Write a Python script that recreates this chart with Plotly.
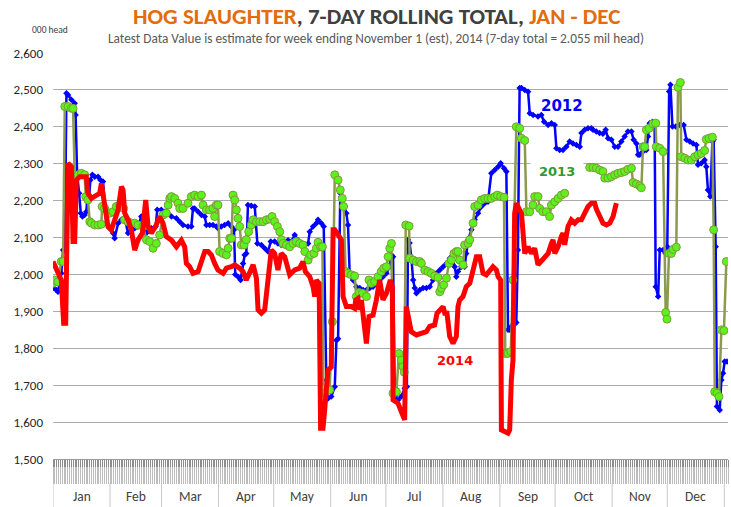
import plotly.graph_objects as go

# ---------------- data (day of year, thousand head) ----------------
days_2012 = [0, 1.8, 2.7, 4.5, 5.5, 6.4, 7.3, 8.2, 10.0, 11.8, 12.3, 13.1, 14.2, 15.1, 16.0, 17.2, 18.1, 18.7, 19.6, 20.3,
             21.4, 22.7, 24.5, 25.8, 27.2, 28.1, 29.0, 30.8, 32.6, 33.5, 35.4, 37.2, 39.0, 40.8, 42.6, 44.4, 46.2, 48.0,
             48.9, 50.8, 53.5, 55.8, 56.7, 58.9, 60.7, 62.5, 64.4, 67.1, 68.9, 70.7, 73.4, 75.2, 76.1, 77.0, 78.9, 80.7,
             82.5, 83.4, 85.2, 87.0, 88.8, 89.7, 91.5, 93.3, 95.2, 97.0, 98.4, 99.1, 100.6, 102.0, 103.3, 104.2, 105.1,
             106.0, 107.8, 109.7, 111.1, 113.3, 115.1, 116.9, 118.4, 120.5, 122.3, 124.1, 126.0, 127.8, 129.6, 131.4,
             133.2, 135.0, 136.9, 138.7, 139.6, 141.4, 143.2, 144.1, 145.9, 147.2, 148.6, 149.5, 151.3, 153.2, 154.1,
             155.0, 156.2, 156.8, 158.6, 159.5, 160.4, 161.3, 163.1, 164.9, 166.8, 168.6, 170.4, 172.2, 174.0, 175.8,
             177.6, 179.4, 181.3, 183.1, 184.0, 184.9, 185.8, 187.6, 189.4, 191.2, 192.4, 193.0, 193.9, 194.8, 195.8,
             196.7, 197.6, 199.4, 201.2, 203.0, 204.8, 206.6, 208.4, 210.3, 212.1, 213.9, 215.7, 217.1, 218.4, 219.3,
             220.2, 222.0, 223.8, 224.7, 225.7, 227.5, 229.3, 231.1, 232.9, 234.7, 236.5, 238.3, 240.2, 242.0, 243.4,
             245.2, 246.5, 247.4, 248.3, 249.2, 251.0, 251.9, 252.8, 253.7, 254.7, 256.5, 258.3, 259.2, 261.0, 263.7,
             265.5, 267.0, 269.2, 271.0, 272.8, 273.7, 275.5, 277.3, 279.1, 280.9, 282.7, 284.6, 286.4, 287.3, 289.1,
             290.9, 292.7, 293.6, 295.4, 297.2, 299.0, 300.5, 301.8, 303.6, 305.4, 307.2, 309.0, 310.8, 312.6, 314.5,
             315.7, 317.2, 318.1, 319.0, 320.8, 322.6, 323.5, 324.4, 325.9, 327.1, 327.7, 329.0, 329.9, 331.7, 333.1,
             334.0, 335.0, 335.7, 336.8, 338.6, 340.7, 342.9, 344.4, 346.2, 348.0, 349.8, 350.7, 352.5, 354.3, 355.2,
             356.1, 357.4, 358.5, 359.2, 360.3, 361.0, 362.5, 363.4, 364.3, 365.2, 366.5]
vals_2012 = [1963, 1958, 1953, 2003, 2066, 2066, 2491, 2486, 2473, 2464, 2432, 2274, 2220, 2166, 2157, 2161, 2170, 2206, 2206, 2256,
             2270, 2265, 2265, 2256, 2252, 2184, 2139, 2125, 2112, 2098, 2139, 2148, 2152, 2112, 2121, 2125, 2130, 2157,
             2143, 2112, 2125, 2130, 2175, 2175, 2170, 2166, 2157, 2152, 2143, 2134, 2130, 2130, 2179, 2179, 2170, 2161,
             2157, 2134, 2134, 2134, 2130, 2125, 2130, 2134, 2139, 2130, 2121, 2000, 1994, 1985, 2030, 2053, 2057,
             2188, 2186, 2184, 2084, 2080, 2071, 2062, 2089, 2089, 2084, 2080, 2084, 2093, 2089, 2107,
             2093, 2084, 2080, 2084, 2116, 2130, 2139, 2148, 2139, 2130, 1714, 1664, 1669, 1696, 1822,
             1826, 2220, 2211, 2184, 2166, 2134, 2003, 1985, 1967, 1963, 1958, 1958, 1963, 1967, 1976,
             1985, 1994, 2003, 2021, 2053, 2048, 1669, 1660, 1669, 1692, 1696, 2094, 2085, 2048, 1985,
             1963, 1949, 1958, 1963, 1963, 1967, 1985, 2003, 2012, 2021, 2030, 2044, 2048, 2021, 1994,
             2008, 2021, 2021, 2057, 2094, 2121, 2148, 2166, 2184, 2193, 2197, 2274, 2283, 2292, 2301,
             2288, 2279, 1850, 1850, 1859, 1866, 1870, 2066, 2505, 2505, 2500, 2495, 2437, 2432, 2428,
             2432, 2414, 2405, 2410, 2405, 2342, 2337, 2337, 2346, 2360, 2355, 2351, 2346, 2383, 2392,
             2396, 2396, 2392, 2387, 2383, 2381, 2392, 2369, 2365, 2346, 2346, 2360, 2374, 2387, 2387,
             2365, 2355, 2324, 2324, 2333, 2337, 2374, 2410, 2414, 2410, 1967, 1940, 2066, 2066, 2057,
             2075, 2496, 2514, 2401, 2401, 2405, 2405, 2365, 2360, 2355, 2351, 2297, 2301, 2310, 2292,
             2229, 2211, 2360, 2365, 2075, 1642, 1633, 1714, 1732, 1764, 1764]

days_2013 = [0, 0.9, 2.7, 4.5, 5.5, 6.4, 8.2, 10.0, 10.9, 11.8, 13.6, 15.4, 17.2, 17.8, 19.0, 20.0, 20.9, 22.7, 24.5, 26.3,
             26.7, 28.1, 30.8, 32.6, 34.4, 36.2, 38.4, 38.9, 40.8, 42.6, 44.4, 46.2, 48.9, 50.8, 52.6, 54.4, 56.2, 58.0,
             59.8, 61.6, 62.6, 63.5, 64.4, 66.2, 68.0, 68.9, 70.7, 73.4, 75.2, 77.0, 78.9, 80.7, 81.6, 83.4, 85.2, 87.0,
             87.9, 88.8, 89.7, 90.6, 92.4, 94.3, 95.2, 96.1, 97.0, 97.9, 98.8, 99.7, 100.6, 101.5, 102.4, 103.9, 105.1,
             106.4, 107.8, 108.8, 110.6, 112.4, 114.2, 116.0, 117.8, 119.1, 120.5, 122.0, 123.3, 124.2, 125.1, 126.9,
             128.7, 130.5, 132.3, 134.1, 135.9, 136.9, 138.7, 140.1, 141.9, 143.2, 144.1, 145.5, 146.5, 147.0, 147.7,
             150.4, 151.9, 153.2, 155.0, 156.2, 157.3, 158.0, 159.1, 160.4, 162.2, 164.0, 164.9, 166.4, 168.2, 170.4,
             171.8, 173.1, 174.9, 176.7, 178.5, 179.8, 181.3, 182.2, 183.1, 184.0, 184.9, 186.7, 188.1, 189.4, 190.3,
             191.0, 191.8, 193.6, 193.9, 195.8, 197.6, 199.4, 200.3, 202.1, 203.9, 205.7, 207.5, 209.3, 210.3, 211.2,
             212.4, 213.9, 215.3, 216.6, 218.0, 219.3, 220.2, 221.1, 222.9, 223.8, 225.7, 226.6, 228.4, 229.3, 231.1,
             232.9, 234.7, 236.5, 238.3, 240.2, 241.6, 243.4, 245.2, 245.9, 247.4, 248.9, 250.1, 251.9, 253.7, 254.7,
             256.5, 257.4, 259.2, 261.0, 261.9, 263.7, 264.6, 266.4, 268.2, 270.0, 271.0, 272.8, 274.6, 276.4, 278.2,
             285.0,
             291.8, 293.6, 295.4, 297.2, 299.0, 300.0, 301.8, 303.6, 305.4, 307.2, 309.0, 310.8, 312.6, 314.5, 315.4,
             317.2, 319.0, 319.9, 320.8, 321.7, 322.6, 324.1, 326.2, 327.7, 328.0, 329.9, 331.7, 333.1, 333.8, 334.9,
             336.2, 337.1, 338.9, 339.8, 341.1, 341.6, 343.5, 345.3, 347.1, 348.9, 350.7, 352.5, 354.3, 355.2, 356.7,
             358.5, 359.2, 359.8, 361.0, 362.1, 363.4, 364.8, 366.1]
vals_2013 = [1976, 1985, 1980, 2035, 2035, 2455, 2455, 2450, 2450, 2270, 2270, 2274, 2270, 2211, 2202, 2143, 2139, 2134, 2134, 2136,
             2184, 2179, 2166, 2170, 2184, 2188, 2179, 2148, 2143, 2139, 2139, 2134, 2130, 2094, 2089, 2071, 2084, 2107,
             2161, 2166, 2188, 2206, 2211, 2206, 2193, 2179, 2179, 2193, 2211, 2215, 2211, 2215, 2188, 2175, 2175, 2179,
             2157, 2188, 2188, 2062, 2057, 2053, 2071, 2098, 2098, 2215, 2202, 2175, 2152, 2130, 2080, 2080, 2094,
             2116, 2134, 2148, 2143, 2143, 2143, 2148, 2150, 2157, 2143, 2130, 2116, 2094, 2084, 2080,
             2075, 2084, 2089, 2084, 2080, 2062, 2039, 2053, 2057, 2071, 2087, 2075, 2075, 1690, 1678,
             1687, 1872, 2270, 2256, 2229, 2206, 2184, 2008, 2003, 1999, 1996, 1940, 1951, 1949, 1940,
             1985, 1976, 1981, 1994, 2008, 2017, 2021, 2048, 2071, 2084, 1678, 1682, 1786, 1768, 1750,
             1735, 2134, 2131, 2044, 2039, 2035, 2035, 2030, 2012, 2008, 2003, 1996, 1992, 1953, 1963,
             1972, 1990, 2030, 2039, 2057, 2062, 2062, 2039, 2026, 2080, 2084, 2094, 2139, 2184, 2188,
             2202, 2206, 2206, 2206, 2211, 2215, 2211, 2209, 1786, 1786, 1791, 1985, 2400, 2396, 2369,
             2363, 2170, 2170, 2188, 2211, 2211, 2179, 2170, 2170, 2157, 2188, 2197, 2206, 2215, 2220,
             None,
             2290, 2290, 2288, 2283, 2279, 2261, 2261, 2265, 2270, 2274, 2276, 2279, 2285, 2288, 2249,
             2245, 2240, 2235, 2346, 2346, 2392, 2396, 2408, 2410, 2346, 2342, 2333, 1897, 1879, 2057,
             2057, 2068, 2074, 2507, 2520, 2319, 2315, 2310, 2310, 2319, 2324, 2328, 2336, 2366, 2369,
             2372, 2121, 1682, 1678, 1669, 1850, 1848, 2035]

days_2014 = [0, 2.7, 4.5, 5.8, 6.9, 8.2, 10.0, 10.9, 11.8, 12.7, 14.5, 18.1, 19.0, 20.9, 23.6, 25.4, 26.3, 28.1, 29.9, 31.7,
             33.5, 35.4, 37.2, 38.1, 39.0, 40.8, 42.6, 44.4, 46.2, 48.6, 50.4, 51.7, 53.5, 55.8, 58.0, 59.8, 61.6, 64.4,
             67.1, 69.8, 71.6, 72.5, 74.3, 76.1, 78.9, 80.7, 82.5, 84.3, 86.1, 87.9, 89.7, 92.5, 94.3, 97.0, 98.8, 101.5,
             103.3, 105.1, 106.9, 108.8, 110.6, 111.5, 113.3, 115.1, 116.9, 118.7, 120.5, 122.3, 124.1, 126.0, 128.7,
             131.4, 134.1, 135.9, 137.2, 139.6, 141.4, 142.3, 143.2, 144.7, 145.5, 146.8, 147.7, 149.5, 151.3, 152.3,
             153.2, 155.0, 156.8, 157.7, 159.5, 162.2, 164.0, 164.6, 165.8, 166.8, 167.7, 168.9, 170.4, 171.8, 174.0,
             175.8, 177.6, 179.4, 181.3, 183.4, 184.5, 184.9, 187.6, 189.4, 191.2, 192.1, 193.0, 194.8, 197.6, 200.3,
             203.0, 204.8, 207.5, 208.8, 210.3, 212.1, 213.0, 214.2, 215.7, 217.5, 219.3, 220.2, 221.1, 222.9, 224.7,
             226.6, 228.4, 230.2, 232.0, 233.8, 235.6, 237.4, 239.2, 241.1, 242.0, 243.4, 243.8, 247.4, 248.3, 249.2,
             250.1, 251.0, 251.9, 253.7, 254.7, 256.5, 258.3, 260.1, 261.9, 263.7, 265.5, 267.3, 269.2, 271.0, 271.9,
             272.8, 274.6, 276.4, 277.3, 278.2, 280.0, 281.8, 283.7, 285.5, 287.3, 289.1, 290.9, 292.7, 294.5, 295.6,
             297.2, 299.0, 300.9, 302.7, 304.5, 305.4, 306.3]
vals_2014 = [2035, 2003, 1985, 1868, 1868, 2301, 2292, 2089, 2089, 2256, 2265, 2265, 2220, 2206, 2215, 2220, 2247, 2184, 2130, 2121,
             2148, 2175, 2238, 2229, 2166, 2148, 2121, 2066, 2093, 2112, 2202, 2130, 2112, 2130, 2157, 2139, 2103, 2093,
             2075, 2093, 2075, 2030, 2021, 2003, 2008, 2035, 2062, 2062, 2053, 2030, 2012, 2003, 2017, 2021, 2026, 2017,
             2008, 1985, 2003, 2026, 1990, 1904, 1895, 1904, 1985, 2066, 2057, 2012, 2057, 2048, 1999,
             2012, 2017, 2035, 2008, 1994, 1967, 1940, 1985, 1976, 1583, 1583, 1633, 1741, 1749, 2121,
             2121, 2110, 2094, 1940, 1913, 1913, 1908, 1931, 1935, 1904, 1931, 1877, 1813, 1886, 1890,
             1931, 1985, 1931, 1949, 1985, 1967, 1660, 1651, 1628, 1606, 1913, 1895, 1845, 1836, 1841,
             1845, 1859, 1863, 1895, 1904, 1913, 1895, 1895, 1832, 1813, 1832, 1913, 1931, 1940, 1967,
             1976, 2012, 2048, 2048, 2003, 1999, 2012, 2021, 2012, 1994, 1985, 1579, 1570, 1579, 1714,
             1768, 2166, 2193, 2175, 2166, 2057, 2075, 2057, 2071, 2026, 2035, 2048, 2057, 2084, 2094,
             2057, 2075, 2103, 2112, 2080, 2130, 2148, 2139, 2148, 2148, 2166, 2184, 2193, 2193, 2175,
             2157, 2139, 2134, 2139, 2157, 2184, 2193]

months = ["Jan", "Feb", "Mar", "Apr", "May", "Jun", "Jul", "Aug", "Sep", "Oct", "Nov", "Dec"]
month_starts = [0, 31, 59, 90, 120, 151, 181, 212, 243, 273, 304, 334, 365]
y_ticks = [1500, 1600, 1700, 1800, 1900, 2000, 2100, 2200, 2300, 2400, 2500, 2600]

# ---------------- figure ----------------
FONT = "Carlito, Lato, 'Liberation Sans', sans-serif"
W, H = 731, 507
ML, MR, MT, MB = 53, 3, 53, 48
PW = W - ML - MR
PH = H - MT - MB


def px_x(px):
    return (px - ML) / PW


def px_y(py):
    return (H - MB - py) / PH


fig = go.Figure()
fig.add_trace(go.Scatter(x=days_2012, y=vals_2012, mode="lines+markers", name="2012",
                         line=dict(color="#0000FF", width=2.5),
                         marker=dict(symbol="diamond", size=5, color="#0000FF")))
fig.add_trace(go.Scatter(x=days_2013, y=vals_2013, mode="lines+markers", name="2013",
                         connectgaps=False,
                         line=dict(color="#8C9A4E", width=2.5),
                         marker=dict(symbol="circle", size=8, color="#5CF21C",
                                     line=dict(color="#7F9A3A", width=1))))
fig.add_trace(go.Scatter(x=days_2014, y=vals_2014, mode="lines", name="2014",
                         line=dict(color="#FF0000", width=5)))

shapes = []
for d in month_starts:
    shapes.append(dict(type="line", xref="x", yref="paper", x0=d, x1=d,
                       y0=px_y(483), y1=px_y(507), line=dict(color="#C8C8C8", width=1)))

annotations = []
for i, m in enumerate(months):
    annotations.append(dict(x=(month_starts[i] + month_starts[i + 1]) / 2, y=px_y(496), xref="x", yref="paper",
                            text=m, showarrow=False, yanchor="middle",
                            font=dict(family=FONT, size=13.5, color="#404040")))

annotations += [
    dict(x=px_x(376), y=px_y(16), xref="paper", yref="paper", showarrow=False, yanchor="middle",
         text="<b><span style='color:#E46C0A'>HOG SLAUGHTER</span>, 7-DAY ROLLING TOTAL, "
              "<span style='color:#E46C0A'>JAN - DEC</span></b>",
         font=dict(family=FONT, size=23, color="#404040")),
    dict(x=px_x(376), y=px_y(39), xref="paper", yref="paper", showarrow=False, yanchor="middle",
         text="Latest Data Value is estimate for week ending November 1 (est), 2014 (7-day total = 2.055 mil head)",
         font=dict(family=FONT, size=13.3, color="#595959")),
    dict(x=px_x(30), y=px_y(30), xref="paper", yref="paper", showarrow=False, yanchor="middle",
         text="000 head", font=dict(family=FONT, size=9.5, color="#404040")),
    dict(x=276.6, y=2457, xref="x", yref="y", showarrow=False, text="<b>2012</b>",
         font=dict(family="'DejaVu Sans', sans-serif", size=15, color="#0000FF")),
    dict(x=273.8, y=2278, xref="x", yref="y", showarrow=False, text="<b>2013</b>", bgcolor="white",
         borderpad=8, font=dict(family="'DejaVu Sans', sans-serif", size=13, color="#2E9B2E")),
    dict(x=218.6, y=1767, xref="x", yref="y", showarrow=False, text="<b>2014</b>",
         font=dict(family="'DejaVu Sans', sans-serif", size=13, color="#FF0000")),
]

fig.update_layout(
    width=W, height=H,
    margin=dict(l=ML, r=MR, t=MT, b=MB, autoexpand=False),
    paper_bgcolor="white", plot_bgcolor="white",
    showlegend=False,
    font=dict(family=FONT, color="#404040"),
    shapes=shapes, annotations=annotations,
    xaxis=dict(range=[0, 367], showgrid=False, zeroline=False, automargin=False,
               showline=True, linecolor="#9A9A9A", linewidth=1,
               ticks="outside", tick0=0, dtick=1, ticklen=24, tickwidth=1, tickcolor="#BDBDBD",
               showticklabels=False),
    xaxis2=dict(range=[0, 367], overlaying="x", side="bottom", anchor="y", showgrid=False,
                zeroline=False, automargin=False, showline=False,
                ticks="outside", tick0=0, dtick=1, ticklen=7, tickwidth=1, tickcolor="#8C8C8C",
                showticklabels=False),
    yaxis=dict(range=[1500, 2600], tickvals=y_ticks, tickformat=",", showgrid=True, automargin=False,
               gridcolor="#ABABAB", gridwidth=1, zeroline=False, showline=False,
               ticks="", ticklabelstandoff=9,
               tickfont=dict(family=FONT, size=13, color="#262626")),
)
# invisible trace to activate the overlay axis carrying the darker short ticks
fig.add_trace(go.Scatter(x=[0], y=[None], xaxis="x2", yaxis="y", mode="lines", hoverinfo="skip",
                         showlegend=False))

fig.write_html("out.html", config={"displayModeBar": False},
               post_script="document.body.style.margin='0';document.body.style.overflow='hidden';")
